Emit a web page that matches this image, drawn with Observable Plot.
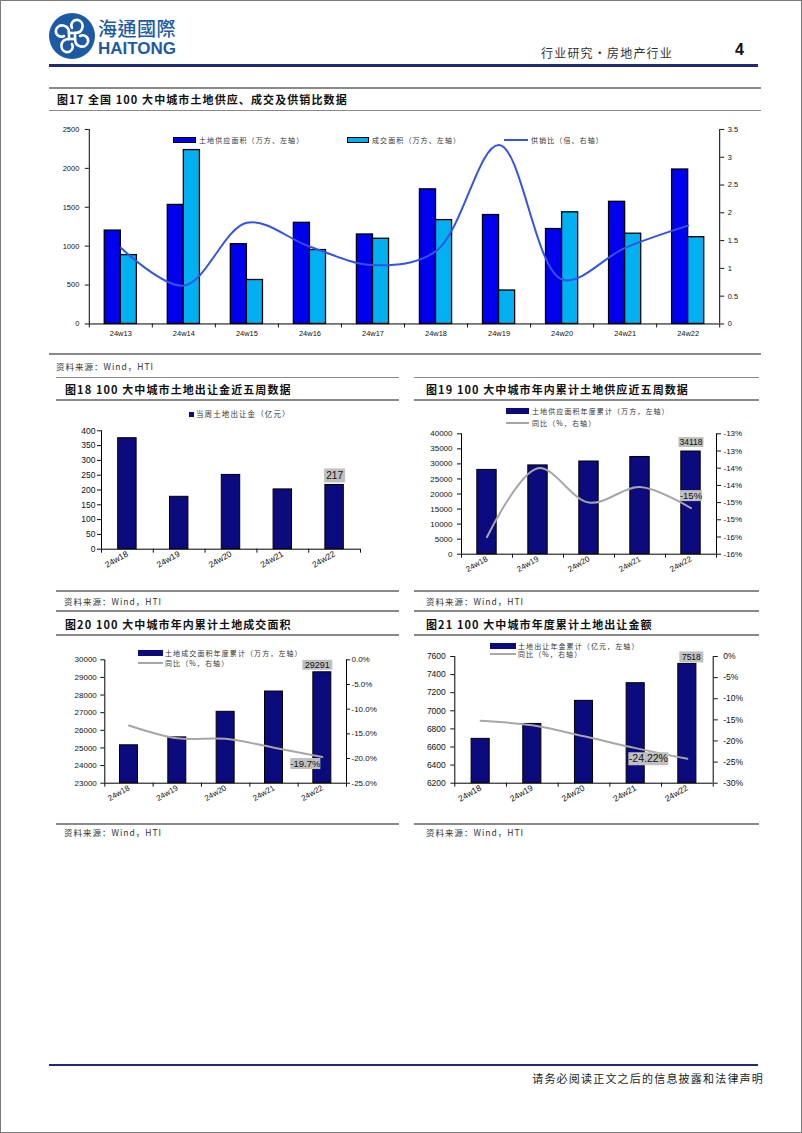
<!DOCTYPE html>
<html><head><meta charset="utf-8">
<script src="https://cdn.jsdelivr.net/npm/d3@7"></script>
<script src="https://cdn.jsdelivr.net/npm/@observablehq/plot@0.6"></script>
<style>
body{margin:0;background:#fff;}
#page{position:relative;width:802px;height:1133px;overflow:hidden;background:#fff;box-sizing:border-box;border:1.5px solid #7a7a7a;font-family:"Noto Sans CJK SC","Liberation Sans",sans-serif;}
.t{position:absolute;white-space:nowrap;transform:translateY(-50%);line-height:1;}
.ln{position:absolute;}
</style></head><body><div id="page"></div>
<script>
// ---------- data ----------
const weeks17 = ["24w13","24w14","24w15","24w16","24w17","24w18","24w19","24w20","24w21","24w22"];
const supply17 = [1200, 1530, 1025, 1300, 1150, 1730, 1400, 1220, 1570, 1985];
const deal17 = [885, 2235, 565, 950, 1095, 1335, 430, 1435, 1160, 1115];
const ratio17 = [1.37, 0.69, 1.82, 1.39, 1.06, 1.31, 3.22, 0.80, 1.37, 1.77];

const weeks5 = ["24w18","24w19","24w20","24w21","24w22"];
const landFee18 = [375, 177, 251, 202, 217];
const cumSupply19 = [28000, 29500, 30800, 32300, 34118];
const cumSupplyYoY19 = [-15.5, -13.5, -14.5, -14.05, -14.66];
const cumDeal20 = [25150, 25600, 27050, 28200, 29291];
const cumDealYoY20 = [-13.3, -15.9, -16.0, -17.8, -19.7];
const cumFee21 = [6690, 6855, 7110, 7305, 7518];
const cumFeeYoY21 = [-15.2, -16.3, -18.9, -21.7, -24.22];

const leg17 = ["土地供应面积（万方、左轴）", "成交面积（万方、左轴）", "供销比（倍、右轴）"];
const leg18 = "当周土地出让金（亿元）";
const leg19 = ["土地供应面积年度累计（万方，左轴）", "同比（%，右轴）"];
const leg20 = ["土地成交面积年度累计（万方，左轴）", "同比（%，右轴）"];
const leg21 = ["土地出让年金累计（亿元，左轴）", "同比（%，右轴）"];

// ---------- helpers ----------
const page = document.getElementById("page");
const NAVY = "#0B0B7E", BLUE = "#0000EE", CYAN = "#00B0F0", LINE17 = "#3553E6", GRAYLINE = "#A6A6A6";
const TICKFONT = "'Liberation Sans', Arial, sans-serif";
function hline(x1, x2, y, h, color) {
  const d = document.createElement("div"); d.className = "ln";
  Object.assign(d.style, {left: x1 + "px", top: (y - h / 2) + "px", width: (x2 - x1) + "px", height: h + "px", background: color});
  page.appendChild(d);
}
function text(str, x, y, css) {
  const d = document.createElement("div"); d.className = "t"; d.textContent = str;
  Object.assign(d.style, {left: x + "px", top: y + "px"}, css || {});
  page.appendChild(d); return d;
}
function box(x, y, w, h, fill, border) {
  const d = document.createElement("div"); d.className = "ln";
  Object.assign(d.style, {left: x + "px", top: (y - h / 2) + "px", width: w + "px", height: h + "px", background: fill, boxSizing: "border-box", border: border || "none"});
  page.appendChild(d);
}
function place(svg, left, top) {
  svg.style.position = "absolute"; svg.style.left = left + "px"; svg.style.top = top + "px";
  page.appendChild(svg);
}
function boxSymbol(w, h) {
  return {draw(ctx) { ctx.moveTo(-w / 2, -h / 2); ctx.lineTo(w / 2, -h / 2); ctx.lineTo(w / 2, h / 2); ctx.lineTo(-w / 2, h / 2); ctx.closePath(); }};
}
const titleCss = {fontSize: "11px", fontWeight: "700", letterSpacing: "1.1px", color: "#111"};
const srcCss = {fontSize: "8.5px", letterSpacing: "1px", color: "#333"};
const legCss = {fontSize: "7px", letterSpacing: "1.1px", color: "#333"};
const plotStyle = fs => ({fontFamily: TICKFONT, fontSize: fs, color: "#111", background: "transparent", overflow: "visible"});

// ---------- header ----------
page.insertAdjacentHTML("beforeend", `
<svg width="50" height="50" viewBox="-25 -25 50 50" style="position:absolute;left:46px;top:10px">
  <circle r="23" fill="#1D5AA6"/>
  <g fill="none" stroke="#fff" stroke-width="2.6" stroke-linecap="round">
    <path d="M-3,-3 C-3,-12 -14,-13 -16,-6 C-17,-1 -12,2 -8,0"/>
    <path d="M3,-3 C12,-3 13,-14 6,-16 C1,-17 -2,-12 0,-8"/>
    <path d="M3,3 C3,12 14,13 16,6 C17,1 12,-2 8,0"/>
    <path d="M-3,3 C-12,3 -13,14 -6,16 C-1,17 2,12 0,8"/>
    <rect x="-3" y="-3" width="6" height="6"/>
  </g>
</svg>`);
text("海通國際", 97, 25.5, {fontFamily: "'Noto Sans CJK TC'", fontSize: "19px", fontWeight: "500", color: "#1D5AA6", letterSpacing: "0.5px"});
text("HAITONG", 97, 47, {fontFamily: TICKFONT, fontSize: "17px", fontWeight: "700", color: "#1D5AA6"});
text("行业研究・房地产行业", 540, 52, {fontSize: "12px", letterSpacing: "1.2px", color: "#333"});
text("4", 734, 49, {fontFamily: TICKFONT, fontSize: "16px", fontWeight: "700", color: "#111"});
hline(48, 757, 64, 3, "#1F2A78");

// ---------- section lines & texts ----------
const G = "#8a8a8a";
hline(48, 760, 87, 1.5, G);
hline(48, 760, 109.5, 1.5, G);
hline(48, 760, 353, 1.5, G);
text("图17 全国 100 大中城市土地供应、成交及供销比数据", 56, 97.5, titleCss);
text("资料来源：Wind，HTI", 55, 365, srcCss);

[[55, 398], [413, 758]].forEach(([a, b]) => {
  hline(a, b, 376.5, 1.5, G); hline(a, b, 399, 1.5, G); hline(a, b, 590, 1.5, G);
  hline(a, b, 610, 1.5, G); hline(a, b, 634, 1.5, G); hline(a, b, 823, 1.5, G);
});
text("图18 100 大中城市土地出让金近五周数据", 64, 388, titleCss);
text("图19 100 大中城市年内累计土地供应近五周数据", 425, 388, titleCss);
text("图20 100 大中城市年内累计土地成交面积", 64, 623, titleCss);
text("图21 100 大中城市年度累计土地出让金额", 425, 623, titleCss);
text("资料来源：Wind，HTI", 63, 600, srcCss);
text("资料来源：Wind，HTI", 425, 600, srcCss);
text("资料来源：Wind，HTI", 63, 831, srcCss);
text("资料来源：Wind，HTI", 425, 831, srcCss);

// footer
hline(48, 757, 1064, 2.5, "#1F2A78");
const ft = text("请务必阅读正文之后的信息披露和法律声明", 0, 1077, {fontSize: "11px", letterSpacing: "1.2px", color: "#222"});
ft.style.left = (763 - ft.getBoundingClientRect().width) + "px";

// ---------- chart 17 ----------
{
  const rows = weeks17.map((w, i) => ({i, week: w, supply: supply17[i], deal: deal17[i], ratio: ratio17[i]}));
  const K = 2500 / 3.5;
  const svg = Plot.plot({
    width: 802, height: 240, marginLeft: 88, marginRight: 82, marginTop: 18, marginBottom: 27,
    x: {domain: [-0.5, 9.5], label: null}, y: {domain: [0, 2500], label: null},
    style: plotStyle("7.5px"),
    marks: [
      Plot.rect(rows, {x1: d => d.i - 0.255, x2: d => d.i, y1: 0, y2: "supply", fill: BLUE, stroke: "#000", strokeWidth: 1.3}),
      Plot.rect(rows, {x1: d => d.i, x2: d => d.i + 0.255, y1: 0, y2: "deal", fill: CYAN, stroke: "#000", strokeWidth: 1.3}),
      Plot.line(rows, {x: "i", y: d => d.ratio * K, curve: "catmull-rom", stroke: LINE17, strokeWidth: 2}),
      Plot.ruleX([-0.5, 9.5], {stroke: "#000"}),
      Plot.ruleY([0], {stroke: "#000"}),
      Plot.axisY(d3.range(0, 2501, 500), {anchor: "left", tickSize: 4, tickPadding: 6, label: null, tickFormat: d => String(d)}),
      Plot.axisY(d3.range(0, 8).map(k => k * 0.5 * K), {anchor: "right", tickSize: 4, tickPadding: 4, label: null, tickFormat: v => String(Math.round(v / K * 10) / 10)}),
      Plot.axisX(d3.range(10), {tickSize: 0, tickPadding: 7, label: null, tickFormat: i => weeks17[i]}),
      Plot.axisX(d3.range(11).map(k => k - 0.5), {tickSize: 4, label: null, tickFormat: () => ""})
    ]
  });
  place(svg, 0, 110);
  box(172, 139, 23, 5.5, BLUE, "1px solid #000"); text(leg17[0], 198, 139, legCss);
  box(346, 139, 22, 5.5, CYAN, "1px solid #000"); text(leg17[1], 371, 139, legCss);
  hline(503, 527, 139, 2, LINE17); text(leg17[2], 530, 139, legCss);
}

// ---------- chart 18 ----------
{
  const rows = weeks5.map((w, i) => ({i, week: w, v: landFee18[i]}));
  const last = rows.slice(-1);
  const svg = Plot.plot({
    width: 370, height: 190, marginLeft: 60, marginRight: 51, marginTop: 29.3, marginBottom: 42.3,
    x: {domain: [-0.5, 4.5], label: null}, y: {domain: [0, 400], label: null},
    style: plotStyle("8.5px"),
    marks: [
      Plot.rect(rows, {x1: d => d.i - 0.178, x2: d => d.i + 0.178, y1: 0, y2: "v", fill: NAVY, stroke: "#000", strokeWidth: 1}),
      Plot.ruleX([-0.5], {stroke: "#000"}),
      Plot.ruleY([0], {stroke: "#000"}),
      Plot.axisY(d3.range(0, 401, 50), {anchor: "left", tickSize: 4, tickPadding: 2, label: null, tickFormat: d => String(d)}),
      Plot.axisX(d3.range(5), {tickSize: 0, tickPadding: 4, tickRotate: -30, label: null, tickFormat: i => weeks5[i]}),
      Plot.axisX(d3.range(6).map(k => k - 0.5), {tickSize: 4, label: null, tickFormat: () => ""}),
      Plot.dot(last, {x: "i", y: "v", symbol: boxSymbol(21, 14), fill: "#BFBFBF", stroke: "none", dy: -9.5}),
      Plot.text(last, {x: "i", y: "v", text: d => String(d.v), dy: -9.5, fontSize: 10, fill: "#111"})
    ]
  });
  place(svg, 40, 400);
  box(188, 413, 5, 5, NAVY); text(leg18, 195, 413, {...legCss, fontSize: "7.5px"});
}

// ---------- chart 19 ----------
{
  const rows = weeks5.map((w, i) => ({i, week: w, v: cumSupply19[i], yoy: cumSupplyYoY19[i]}));
  const last = rows.slice(-1);
  const toY = p => (p + 16) / 3.5 * 40000;
  const svg = Plot.plot({
    width: 370, height: 190, marginLeft: 50, marginRight: 65, marginTop: 32.3, marginBottom: 37.3,
    x: {domain: [-0.5, 4.5], label: null}, y: {domain: [0, 40000], label: null},
    style: plotStyle("8px"),
    marks: [
      Plot.rect(rows, {x1: d => d.i - 0.19, x2: d => d.i + 0.19, y1: 0, y2: "v", fill: NAVY, stroke: "#000", strokeWidth: 1}),
      Plot.line(rows, {x: "i", y: d => toY(d.yoy), curve: "catmull-rom", stroke: GRAYLINE, strokeWidth: 2}),
      Plot.ruleX([-0.5, 4.5], {stroke: "#000"}),
      Plot.ruleY([0], {stroke: "#000"}),
      Plot.axisY(d3.range(0, 40001, 5000), {anchor: "left", tickSize: 4, tickPadding: 5, label: null, tickFormat: d => String(d)}),
      Plot.axisY(d3.range(0, 8).map(k => toY(-16 + k * 0.5)), {anchor: "right", tickSize: 4, tickPadding: 3, label: null,
        tickFormat: v => { const p = v / 40000 * 3.5 - 16; return "-" + Math.round(-p + 1e-9) + "%"; }}),
      Plot.axisX(d3.range(5), {tickSize: 0, tickPadding: 4, tickRotate: -30, label: null, tickFormat: i => weeks5[i]}),
      Plot.axisX(d3.range(6).map(k => k - 0.5), {tickSize: 4, label: null, tickFormat: () => ""}),
      Plot.dot(last, {x: "i", y: "v", symbol: boxSymbol(25, 10), fill: "#BFBFBF", stroke: "none", dy: -9.5}),
      Plot.text(last, {x: "i", y: "v", text: d => String(d.v), dy: -9.5, fontSize: 8.5, fill: "#111"}),
      Plot.dot(last, {x: "i", y: d => toY(d.yoy), symbol: boxSymbol(22, 11), fill: "#BFBFBF", stroke: "none", dy: -12.5}),
      Plot.text(last, {x: "i", y: d => toY(d.yoy), text: d => Math.round(d.yoy) + "%", dy: -12.5, fontSize: 9.5, fill: "#111"})
    ]
  });
  place(svg, 410, 400);
  box(505, 410, 23, 6, NAVY); text(leg19[0], 531, 410, legCss);
  hline(505, 528, 421.7, 2, GRAYLINE); text(leg19[1], 531, 421.7, legCss);
}

// ---------- chart 20 ----------
{
  const rows = weeks5.map((w, i) => ({i, week: w, v: cumDeal20[i], yoy: cumDealYoY20[i]}));
  const last = rows.slice(-1);
  const toY = p => 23000 + (p + 25) / 25 * 7000;
  const svg = Plot.plot({
    width: 370, height: 190, marginLeft: 63.3, marginRight: 65, marginTop: 23.3, marginBottom: 43.3,
    x: {domain: [-0.5, 4.5], label: null}, y: {domain: [23000, 30000], label: null},
    style: plotStyle("8px"),
    marks: [
      Plot.rect(rows, {x1: d => d.i - 0.186, x2: d => d.i + 0.186, y1: 23000, y2: "v", fill: NAVY, stroke: "#000", strokeWidth: 1}),
      Plot.line(rows, {x: "i", y: d => toY(d.yoy), curve: "catmull-rom", stroke: GRAYLINE, strokeWidth: 2}),
      Plot.ruleX([-0.5, 4.5], {stroke: "#000"}),
      Plot.ruleY([23000], {stroke: "#000"}),
      Plot.axisY(d3.range(23000, 30001, 1000), {anchor: "left", tickSize: 4, tickPadding: 4, label: null, tickFormat: d => String(d)}),
      Plot.axisY(d3.range(0, 6).map(k => toY(-25 + k * 5)), {anchor: "right", tickSize: 3, tickPadding: 2, label: null,
        tickFormat: v => { let q = Math.round(((v - 23000) / 7000 * 25 - 25) * 10) / 10; if (q === 0) q = 0; return q.toFixed(1) + "%"; }}),
      Plot.axisX(d3.range(5), {tickSize: 0, tickPadding: 4, tickRotate: -30, label: null, tickFormat: i => weeks5[i]}),
      Plot.axisX(d3.range(6).map(k => k - 0.5), {tickSize: 4, label: null, tickFormat: () => ""}),
      Plot.dot(last, {x: "i", y: "v", symbol: boxSymbol(30, 10), fill: "#BFBFBF", stroke: "none", dx: -5, dy: -7.5}),
      Plot.text(last, {x: "i", y: "v", text: d => String(d.v), dx: -5, dy: -7.5, fontSize: 9, fill: "#111"}),
      Plot.dot(last, {x: "i", y: d => toY(d.yoy), symbol: boxSymbol(30, 11), fill: "#BFBFBF", stroke: "none", dx: -17, dy: 6.5}),
      Plot.text(last, {x: "i", y: d => toY(d.yoy), text: d => d.yoy.toFixed(1) + "%", dx: -17, dy: 6.5, fontSize: 9.5, fill: "#111"})
    ]
  });
  place(svg, 40, 635);
  box(137, 651.7, 25, 6, NAVY); text(leg20[0], 164, 651.7, legCss);
  hline(137, 162, 661.7, 2, GRAYLINE); text(leg20[1], 164, 661.7, legCss);
}

// ---------- chart 21 ----------
{
  const rows = weeks5.map((w, i) => ({i, week: w, v: cumFee21[i], yoy: cumFeeYoY21[i]}));
  const last = rows.slice(-1);
  const toY = p => 6200 + (p + 30) / 30 * 1400;
  const svg = Plot.plot({
    width: 370, height: 190, marginLeft: 43.3, marginRight: 68.3, marginTop: 20, marginBottom: 43.3,
    x: {domain: [-0.5, 4.5], label: null}, y: {domain: [6200, 7600], label: null},
    style: plotStyle("8.5px"),
    marks: [
      Plot.rect(rows, {x1: d => d.i - 0.175, x2: d => d.i + 0.175, y1: 6200, y2: "v", fill: NAVY, stroke: "#000", strokeWidth: 1}),
      Plot.line(rows, {x: "i", y: d => toY(d.yoy), curve: "catmull-rom", stroke: GRAYLINE, strokeWidth: 2}),
      Plot.ruleX([-0.5, 4.5], {stroke: "#000"}),
      Plot.ruleY([6200], {stroke: "#000"}),
      Plot.axisY(d3.range(6200, 7601, 200), {anchor: "left", tickSize: 4, tickPadding: 5, label: null, tickFormat: d => String(d)}),
      Plot.axisY(d3.range(0, 7).map(k => toY(-30 + k * 5)), {anchor: "right", tickSize: 4, tickPadding: 6, label: null,
        tickFormat: v => String(Math.round((v - 6200) / 1400 * 30 - 30)) + "%"}),
      Plot.axisX(d3.range(5), {tickSize: 0, tickPadding: 4, tickRotate: -30, label: null, tickFormat: i => weeks5[i]}),
      Plot.axisX(d3.range(6).map(k => k - 0.5), {tickSize: 4, label: null, tickFormat: () => ""}),
      Plot.dot(last, {x: "i", y: "v", symbol: boxSymbol(24, 11), fill: "#BFBFBF", stroke: "none", dx: 4, dy: -7}),
      Plot.text(last, {x: "i", y: "v", text: d => String(d.v), dx: 4, dy: -7, fontSize: 8.5, fill: "#111"}),
      Plot.dot(last, {x: "i", y: d => toY(d.yoy), symbol: boxSymbol(40, 13), fill: "#BFBFBF", stroke: "none", dx: -39, dy: 0}),
      Plot.text(last, {x: "i", y: d => toY(d.yoy), text: d => d.yoy.toFixed(2) + "%", dx: -39, dy: 0, fontSize: 10.5, fill: "#111"})
    ]
  });
  place(svg, 410, 635);
  box(489, 645, 26, 6, NAVY); text(leg21[0], 517, 645, legCss);
  hline(489, 515, 653, 2, GRAYLINE); text(leg21[1], 517, 653, legCss);
}
</script></body></html>
